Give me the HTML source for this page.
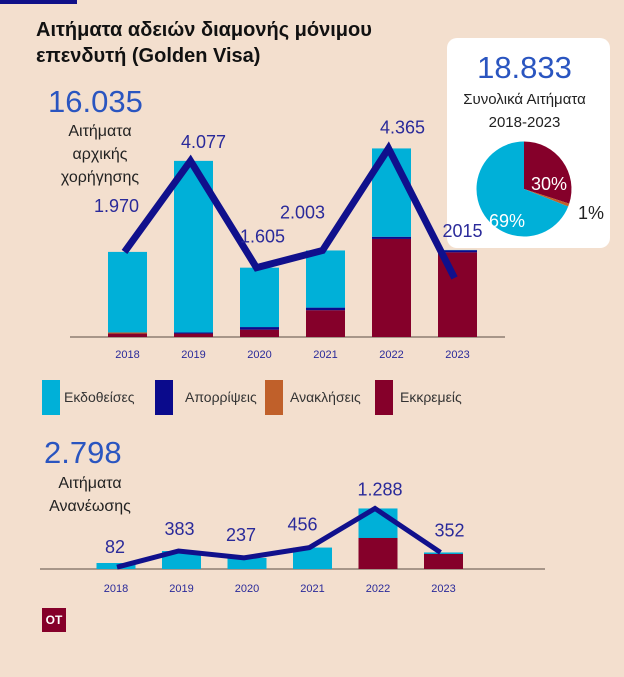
<!DOCTYPE html>
<html><head><meta charset="utf-8">
<style>
html,body{margin:0;padding:0}
body{width:624px;height:677px;background:#f3dfce;position:relative;overflow:hidden;font-family:"Liberation Sans","DejaVu Sans",sans-serif}
.abs{position:absolute}
.t{font-weight:bold;font-size:20px;color:#111;left:36px;line-height:26px}
.sub{font-size:16px;color:#222;text-align:center;line-height:23px}
.leg{font-size:14px;color:#333}
.sw{width:18px;height:35px}
</style></head><body>
<div class="abs" style="left:0;top:0;width:77px;height:4px;background:#101088"></div>
<div class="abs t" style="top:17px">Αιτήματα αδειών διαμονής μόνιμου<br>επενδυτή (Golden Visa)</div>
<div class="abs" style="left:48px;top:84px;font-size:31px;color:#2a55c0">16.035</div>
<div class="abs sub" style="left:40px;top:120px;width:120px">Αιτήματα<br>αρχικής<br>χορήγησης</div>
<div class="abs" style="left:44px;top:435px;font-size:31px;color:#2a55c0">2.798</div>
<div class="abs sub" style="left:40px;top:472px;width:100px">Αιτήματα<br>Ανανέωσης</div>

<div class="abs" style="left:447px;top:38px;width:163px;height:210px;background:#fff;border-radius:10px"></div>
<div class="abs" style="left:447px;top:50px;width:155px;text-align:center;font-size:31px;color:#2a55c0">18.833</div>
<div class="abs sub" style="left:447px;top:88px;width:155px;font-size:15px">Συνολικά Αιτήματα<br>2018-2023</div>

<div class="abs leg" style="left:0;top:0">
<div class="abs sw" style="left:42px;top:380px;background:#00b0d8"></div>
<div class="abs" style="left:64px;top:389px">Εκδοθείσες</div>
<div class="abs sw" style="left:155px;top:380px;background:#0a0a8c"></div>
<div class="abs" style="left:185px;top:389px">Απορρίψεις</div>
<div class="abs sw" style="left:265px;top:380px;background:#c0602a"></div>
<div class="abs" style="left:290px;top:389px">Ανακλήσεις</div>
<div class="abs sw" style="left:375px;top:380px;background:#85002a"></div>
<div class="abs" style="left:400px;top:389px">Εκκρεμείς</div>
</div>

<div class="abs" style="left:42px;top:608px;width:24px;height:24px;background:#85002a;color:#fff;font-weight:bold;font-size:12px;text-align:center;line-height:24px">OT</div>

<svg class="abs" style="left:0;top:0" width="624" height="677" id="svg"></svg>
<script>
const years=["2018","2019","2020","2021","2022","2023"];
const initTotals=[1970,4077,1605,2003,4365,2015];
const initLabels=["1.970","4.077","1.605","2.003","4.365","2015"];
const initPending=[80,80,170,620,2270,1960];
const initRejected=[0,25,60,60,50,50];
const initRevoked=[25,0,0,0,0,0];
const renTotals=[82,383,237,456,1288,352];
const renLabels=["82","383","237","456","1.288","352"];
const renPending=[0,0,0,0,660,320];
const pieShares=[30,1,69];
const pieLabels=["30%","1%","69%"];

const NS="http://www.w3.org/2000/svg";
const svg=document.getElementById('svg');
function mk(t,a,p){const e=document.createElementNS(NS,t);for(const k in a)e.setAttribute(k,a[k]);(p||svg).appendChild(e);return e;}
const C={cy:"#00b0d8",nv:"#0a0a8c",or:"#c0602a",mr:"#85002a",lab:"#2a2a9a"};

// top chart
const tBase=337, tK=0.0432;
const tX=i=>127.5+i*66;
const tY=v=>tBase-v*tK;
let ax=mk('line',{x1:70,x2:505,y1:tBase,y2:tBase,stroke:"#7a6a60","stroke-width":1.2});

years.forEach((y,i)=>{
  const segs=[[initPending[i],C.mr],[initRevoked[i],C.or],[initRejected[i],C.nv]];
  let acc=0;
  const issued=initTotals[i]-initPending[i]-initRejected[i]-initRevoked[i];
  segs.push([issued,C.cy]);
  segs.forEach(([v,c],j)=>{
    if(v<=0)return;
    const r=mk('rect',{x:tX(i)-19.5,width:39,y:tY(acc+v),height:v*tK,fill:c});
    
    acc+=v;
  });
  const t=mk('text',{x:tX(i),y:358,"text-anchor":"middle","font-size":11,fill:C.lab});
  t.textContent=y;
});
const tPts=initTotals.map((v,i)=>[tX(i)-3,tY(v)+(i==5?28:0)]);
let pl=mk('polyline',{points:tPts.map(p=>p.join(',')).join(' '),fill:"none",stroke:"#10108c","stroke-width":7,"stroke-linejoin":"miter"});

const tLabOff=[[-8,-40],[13,-13],[6,-25],[-20,-32],[14,-15],[8,-41]];
initLabels.forEach((l,i)=>{
  const t=mk('text',{x:tPts[i][0]+tLabOff[i][0],y:tPts[i][1]+tLabOff[i][1],"text-anchor":"middle","font-size":18,fill:C.lab});
  t.textContent=l;
});

// bottom chart
const bBase=569, bK=0.047;
const bX=i=>116+i*65.5;
const bY=v=>bBase-v*bK;
ax=mk('line',{x1:40,x2:545,y1:bBase,y2:bBase,stroke:"#7a6a60","stroke-width":1.2});

years.forEach((y,i)=>{
  const h=Math.max(renTotals[i]*bK,6);
  const r=mk('rect',{x:bX(i)-19.5,width:39,y:bBase-h,height:h,fill:C.cy});
  
  if(renPending[i]>0){
    const m=mk('rect',{x:bX(i)-19.5,width:39,y:bY(renPending[i]),height:renPending[i]*bK,fill:C.mr});
    
  }
  const t=mk('text',{x:bX(i),y:592,"text-anchor":"middle","font-size":11,fill:C.lab});
  t.textContent=y;
});
const bPts=renTotals.map((v,i)=>[bX(i)+(i==0?1:-3),bY(v)+(i==0?2:0)]);
pl=mk('polyline',{points:bPts.map(p=>p.join(',')).join(' '),fill:"none",stroke:"#10108c","stroke-width":5});

const bLabOff=[[-2,-14],[1,-16],[-3,-17],[-7,-17],[5,-13],[9,-16]];
renLabels.forEach((l,i)=>{
  const t=mk('text',{x:bPts[i][0]+bLabOff[i][0],y:bPts[i][1]+bLabOff[i][1],"text-anchor":"middle","font-size":18,fill:C.lab});
  t.textContent=l;
});

// pie
const pcx=524,pcy=189,pr=47.5;
const pCols=[C.mr,C.or,C.cy];
let a0=-Math.PI/2;
const tot=pieShares.reduce((a,b)=>a+b,0);
pieShares.forEach((s,i)=>{
  const a1=a0+s/tot*2*Math.PI;
  const large=(a1-a0)>Math.PI?1:0;
  const p=mk('path',{d:`M${pcx},${pcy} L${pcx+pr*Math.cos(a0)},${pcy+pr*Math.sin(a0)} A${pr},${pr} 0 ${large} 1 ${pcx+pr*Math.cos(a1)},${pcy+pr*Math.sin(a1)} Z`,fill:pCols[i]});
  
  a0=a1;
});
const pLabPos=[[549,190,"#fff"],[591,219,"#222"],[507,227,"#fff"]];
pieLabels.forEach((l,i)=>{
  const t=mk('text',{x:pLabPos[i][0],y:pLabPos[i][1],"text-anchor":"middle","font-size":18,fill:pLabPos[i][2]});
  t.textContent=l;
});
</script>
</body></html>
